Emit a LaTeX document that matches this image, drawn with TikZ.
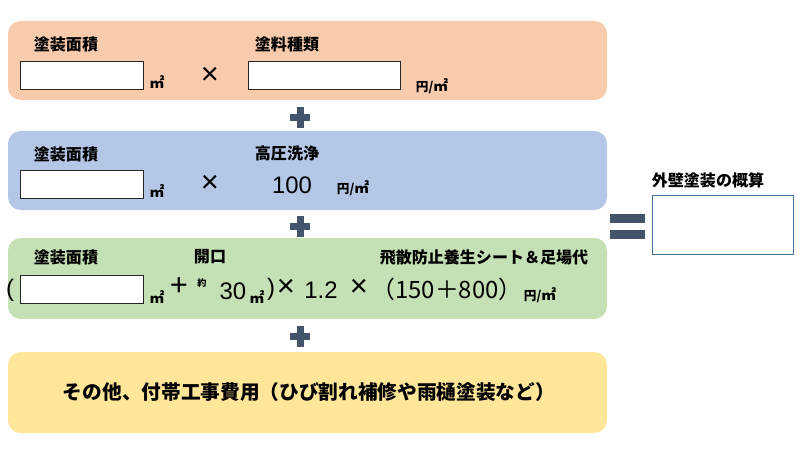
\documentclass[tikz,border=0pt]{standalone}
\usepackage{fontspec}
\setmainfont{Noto Sans CJK JP}
\newfontfamily\arial{Liberation Sans}
\usetikzlibrary{positioning}

\definecolor{bandA}{HTML}{F8CBAD}
\definecolor{bandB}{HTML}{B4C7E7}
\definecolor{bandC}{HTML}{C5E0B4}
\definecolor{bandD}{HTML}{FFE699}
\definecolor{opcol}{HTML}{44546A}
\definecolor{resline}{HTML}{41719C}

\newcommand\sqm{{\fontsize{10.5}{10.5}\selectfont ㎡}}

\tikzset{
  every node/.style={inner sep=0pt},
  band/.style={rounded corners=9pt},
  entry/.style={draw=black!85,fill=white,line width=0.6pt},
  head/.style={font=\bfseries\fontsize{11.4}{12}\selectfont},
  unit/.style={font=\bfseries\fontsize{9}{9}\selectfont},
  num/.style={font=\arial\fontsize{17}{18}\selectfont},
  op/.style={font=\arial\fontsize{22}{22}\selectfont},
}

\begin{document}
\begin{tikzpicture}[x=0.25mm,y=-0.25mm]
\useasboundingbox (0,0) rectangle (800,450);

%bands
\fill[band,bandA](8,21) rectangle (607,100);
\fill[band,bandB](8,131) rectangle (607,210);
\fill[band,bandC](8,238) rectangle (607,319);
\fill[band,bandD](8,352) rectangle (607,433);

%plus signs
\foreach \py in {118,226,336}{
  \fill[opcol](290,\py-3.5) rectangle (310,\py+3.5);
  \fill[opcol](296.5,\py-10.5) rectangle (303.5,\py+10.5);
}

%equals
\fill[opcol](610,214) rectangle (645,223);
\fill[opcol](610,229.5) rectangle (645,238.5);

%row A
\draw(66,44) node[head] (areaA) {塗装面積};
\draw[entry](20,61) rectangle (143,89);
\draw(157,82) node[unit] (sqmA) {\sqm};
\draw(210,76) node[op] (timesA) {×};
\draw(287,44) node[head] (paint) {塗料種類};
\draw[entry](248,61) rectangle (400,89);
\draw(432,86) node[unit] (yenA) {円/\sqm};

%row B
\draw(66,154) node[head] (areaB) {塗装面積};
\draw[entry](20,170) rectangle (143,198);
\draw(157,191) node[unit] (sqmB) {\sqm};
\draw(210,184) node[op] (timesB) {×};
\draw(287,153) node[head] (wash) {高圧洗浄};
\draw(292,185) node[num] (washval) {100};
\draw(353,188) node[unit] (yenB) {円/\sqm};

%row C
\draw(66,257) node[head] (areaC) {塗装面積};
\draw(10,290) node[num] (lpar) {(};
\draw[entry](20,275) rectangle (143,303);
\draw(157,297) node[unit] (sqmC) {\sqm};
\draw(179,287) node[op] (plusC) {+};
\draw(210,257) node[head] (opening) {開口};
\draw(202,283) node[font=\bfseries\fontsize{6.5}{7}\selectfont] (approx) {約};
\draw(233,291) node[num] (openval) {30};
\draw(257,297) node[unit] (sqmD) {\sqm};
\draw(271,289) node[num] (rpar) {)};
\draw(286,288) node[op] (timesC) {×};
\draw(321,290) node[num] (factor) {1.2};
\draw(359,288) node[op] (timesD) {×};
\draw(447,289) node[font=\fontsize{17}{17}\selectfont] (sheetval) {（150＋800）};
\draw(484,257) node[head] (sheet) {飛散防止養生シート＆足場代};
\draw(540,295) node[unit] (yenC) {円/\sqm};

%row D
\draw(309,392) node[font=\bfseries\fontsize{14}{15}\selectfont] (other) {その他、付帯工事費用（ひび割れ補修や雨樋塗装など）};

%result
\draw(708,180) node[head] (total) {外壁塗装の概算};
\draw[resline,line width=0.7pt,fill=white](652,195) rectangle (793,254);
\end{tikzpicture}
\end{document}
